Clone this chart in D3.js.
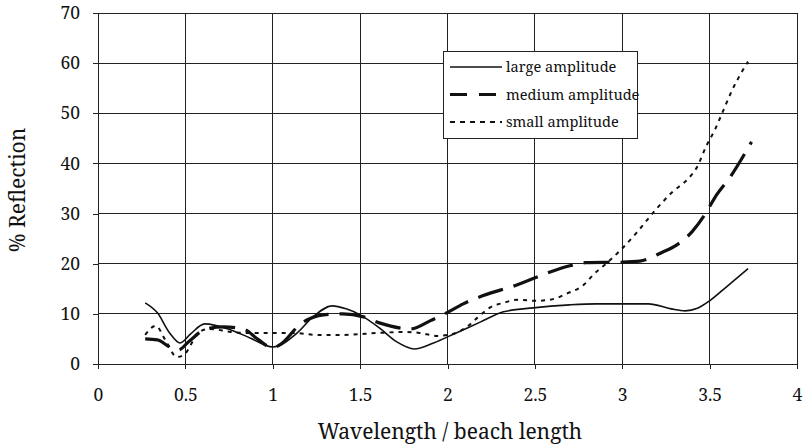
<!DOCTYPE html>
<html><head><meta charset="utf-8">
<script src="https://cdn.jsdelivr.net/npm/d3@7"></script>
<style>body{margin:0;background:#fff}svg{display:block}</style>
</head><body><svg id="c" width="803" height="447"></svg>
<script>
const xTicks = [0,0.5,1,1.5,2,2.5,3,3.5,4];
const yTicks = [0,10,20,30,40,50,60,70];
const seriesNames = ["large amplitude","medium amplitude","small amplitude"];
const largeX = [0.27,0.34,0.41,0.47,0.53,0.61,0.76,0.87,1.0,1.14,1.23,1.34,1.42,1.5,1.61,1.71,1.81,1.92,2.05,2.19,2.32,2.49,2.7,2.85,3.15,3.28,3.36,3.43,3.5,3.6,3.72];
const largeY = [12.2,10.2,6.2,4.2,6.0,8.0,6.8,5.2,3.4,6.2,9.4,11.6,11.0,9.8,7.2,4.4,3.0,4.2,6.2,8.4,10.4,11.2,11.8,12.0,12.0,11.0,10.6,11.1,12.6,15.5,19.0];
const mediumX = [0.27,0.34,0.41,0.46,0.52,0.62,0.72,0.83,0.92,1.0,1.04,1.16,1.29,1.4,1.52,1.61,1.79,1.9,2.0,2.09,2.2,2.4,2.56,2.7,2.79,3.0,3.1,3.23,3.31,3.4,3.48,3.53,3.62,3.74];
const mediumY = [5.0,4.8,3.4,2.8,4.5,7.0,7.4,7.0,4.8,3.2,3.8,8.0,9.8,10.0,9.4,8.2,7.0,8.6,10.3,12.0,13.6,15.8,18.0,19.6,20.2,20.3,20.5,22.3,23.7,26.4,30.2,33.2,37.4,44.3];
const smallX = [0.27,0.33,0.39,0.45,0.49,0.58,0.64,0.76,0.85,1.02,1.12,1.25,1.4,1.61,1.75,1.84,1.94,2.03,2.11,2.17,2.24,2.32,2.4,2.51,2.61,2.68,2.78,2.84,2.91,2.99,3.08,3.19,3.29,3.37,3.43,3.48,3.53,3.58,3.63,3.68,3.72];
const smallY = [5.8,7.6,4.5,1.4,1.8,6.4,7.0,6.4,6.2,6.2,6.2,5.8,5.8,6.2,6.4,6.2,5.6,6.0,7.4,9.2,11.2,12.2,12.8,12.6,13.0,14.0,15.8,18.0,20.1,22.7,26.1,30.7,34.4,36.7,39.4,43.4,46.7,50.7,54.7,58,60.3];

const FONT = "Noto Serif";
const svg = d3.select("#c");
const x = d3.scaleLinear().domain([0,4]).range([98,797]);
const y = d3.scaleLinear().domain([0,70]).range([364,13]);

svg.append("g").selectAll("line").data(yTicks.slice(1)).join("line")
  .attr("x1",x(0)).attr("x2",x(4)).attr("y1",d=>y(d)).attr("y2",d=>y(d))
  .attr("stroke","#222").attr("stroke-width",1).attr("shape-rendering","crispEdges");
svg.append("g").selectAll("line").data(xTicks.slice(1)).join("line")
  .attr("x1",d=>x(d)).attr("x2",d=>x(d)).attr("y1",y(0)).attr("y2",y(70))
  .attr("stroke","#222").attr("stroke-width",1).attr("shape-rendering","crispEdges");

const xAxis = svg.append("g").attr("transform",`translate(0,${y(0)})`)
  .call(d3.axisBottom(x).tickValues(xTicks).tickSize(5).tickSizeOuter(0).tickPadding(20).tickFormat(d=>String(d)));
const yAxis = svg.append("g").attr("transform",`translate(${x(0)},0)`)
  .call(d3.axisLeft(y).tickValues(yTicks).tickSize(5).tickSizeOuter(0).tickPadding(13).tickFormat(d=>String(d)));
[xAxis,yAxis].forEach(a=>{
  a.attr("font-family",FONT);
  a.selectAll("path,line").attr("stroke","#222").attr("shape-rendering","crispEdges");
  a.selectAll("text").attr("font-family",FONT).style("font-family",FONT).attr("font-size",17.5).attr("fill","#111");
});

const line = d3.line().x(d=>x(d[0])).y(d=>y(d[1])).curve(d3.curveMonotoneX);
const series = [
  {xs:largeX, ys:largeY, w:1.6, dash:null},
  {xs:mediumX, ys:mediumY, w:3.2, dash:"26,11"},
  {xs:smallX, ys:smallY, w:2, dash:"4,5"}
];
series.forEach(s=>{
  const pts = s.xs.map((v,i)=>[v,s.ys[i]]);
  svg.append("path").datum(pts).attr("d",line).attr("fill","none")
    .attr("stroke","#111").attr("stroke-width",s.w).attr("stroke-dasharray",s.dash);
});

const lg = svg.append("g");
lg.append("rect").attr("x",443.5).attr("y",51.5).attr("width",194).attr("height",87)
  .attr("fill","#fff").attr("stroke","#222").attr("stroke-width",1);
seriesNames.forEach((n,i)=>{
  const yy = 67 + i*27.5;
  const s = series[i];
  lg.append("line").attr("x1",450).attr("x2",502).attr("y1",yy).attr("y2",yy)
    .attr("stroke","#111").attr("stroke-width",s.w).attr("stroke-dasharray",s.dash ? (i==1?"17,12":"5,5") : null);
  lg.append("text").attr("x",506).attr("y",yy+5).attr("font-size",14.6).attr("font-family",FONT).attr("fill","#111").text(n);
});

svg.append("text").attr("transform","translate(25,190) rotate(-90)").attr("text-anchor","middle")
  .attr("font-family",FONT).attr("fill","#111").attr("font-size",21).text("% Reflection");
svg.append("text").attr("x",450).attr("y",439).attr("text-anchor","middle")
  .attr("font-family",FONT).attr("fill","#111").attr("font-size",21).text("Wavelength / beach length");
</script></body></html>
